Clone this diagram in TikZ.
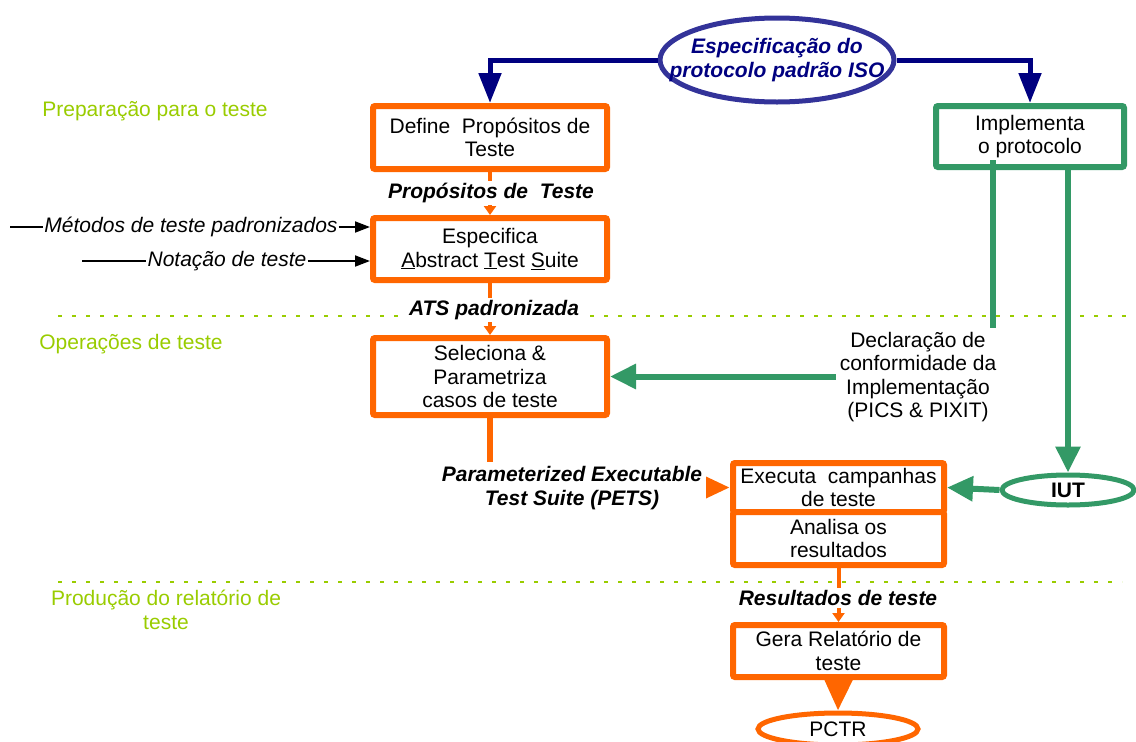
\documentclass[tikz,border=0pt]{standalone}
\usepackage{fontspec}
\setmainfont{Liberation Sans}
\usetikzlibrary{arrows.meta,shapes.geometric,calc}
\definecolor{orng}{HTML}{FF6600}
\definecolor{grn}{HTML}{339966}
\definecolor{nvy}{HTML}{000080}
\definecolor{nvyb}{HTML}{333399}
\definecolor{lime}{HTML}{99CC00}
\begin{document}
\begin{tikzpicture}[x=1pt,y=-1pt,
  txt/.style={font=\fontsize{21}{23.5}\selectfont, align=center},
  obox/.style={draw=orng, line width=6pt, rounded corners=2pt, txt, inner sep=0pt, fill=white},
  gbox/.style={draw=grn, line width=6pt, rounded corners=2pt, txt, inner sep=0pt, fill=white},
  lbl/.style={font=\fontsize{21}{23.5}\selectfont\bfseries\itshape, fill=white, inner sep=2pt, align=center},
  side/.style={font=\fontsize{21}{23.5}\selectfont, text=lime, align=center},
  sep/.style={lime, line width=2.5pt, dash pattern=on 4pt off 10pt},
  navyarrow/.style={nvy, line width=5pt, -{Triangle[length=30pt,width=22pt]}},
  greenarrow/.style={grn, line width=6pt, -{Triangle[length=26pt,width=24pt]}},
  thinorange/.style={orng, line width=4pt, -{Triangle[length=9pt,width=12pt]}},
  blkarrow/.style={black, line width=1.8pt, -{Triangle[length=15pt,width=11pt]}},
]
\useasboundingbox (0,0) rectangle (1136,742);

% phase separators
\draw[sep] (58,316) -- (1136,316);
\draw[sep] (58,582) -- (1122,582);

% phase labels
\node[side] (ph1) at (155,111) {Preparação para o teste};
\node[side] (ph2) at (131,344) {Operações de teste};
\node[side] (ph3) at (166,610) {Produção do relatório de\\teste};

% top ellipse
\node[ellipse, draw=nvyb, line width=5pt, fill=white, minimum width=234pt, minimum height=84pt,
      inner sep=0pt] (spec) at (777,60) {};
\node[font=\fontsize{21}{23.5}\selectfont\bfseries\itshape, text=nvy, align=center, inner sep=0pt]
      (spect) at (spec.center) {Especificação do\\protocolo padrão ISO};

% orange boxes
\node[obox, minimum width=234pt, minimum height=63pt] (def) at (490,137.5) {Define\ \ Propósitos de\\Teste};
\node[obox, minimum width=234pt, minimum height=62pt] (esp) at (490,249) {Especifica\\\underline{A}bstract \underline{T}est \underline{S}uite};
\node[obox, minimum width=234pt, minimum height=77pt] (sel) at (490,376.5) {Seleciona \&\\Parametriza\\casos de teste};
\node[obox, minimum width=211pt, minimum height=49pt] (exe) at (838.5,487.5) {Executa\ \ campanhas\\de teste};
\node[obox, minimum width=211pt, minimum height=53pt] (ana) at (838.5,538.5) {Analisa os\\resultados};
\node[obox, minimum width=211pt, minimum height=52pt] (ger) at (838.5,651) {Gera Relatório de\\teste};
\node[ellipse, draw=orng, line width=5pt, fill=white, minimum width=160pt, minimum height=32pt,
      inner sep=0pt] (pctr) at (838,729) {};
\node[txt, inner sep=0pt] (pctrt) at (pctr.center) {PCTR};

% green
\node[gbox, minimum width=188pt, minimum height=61pt] (imp) at (1030,136.5) {Implementa\\o protocolo};
\node[ellipse, draw=grn, line width=5pt, fill=white, minimum width=132pt, minimum height=30pt,
      inner sep=0pt] (iut) at (1068,490) {};
\node[font=\fontsize{21}{23.5}\selectfont\bfseries, inner sep=0pt] (iutt) at (iut.center) {IUT};

% navy arrows
\draw[navyarrow] (spec.west) -| (def.north);
\draw[navyarrow] (spec.east) -| (imp.north);

% orange flow
\draw[thinorange] (def.south) -- (esp.north);
\draw[thinorange] (esp.south) -- (sel.north);
\draw[orng, line width=6pt, -{Triangle[length=24pt,width=20pt]}] (sel.south) |- (exe.west);
\draw[thinorange] (ana.south) -- (ger.north);
\draw[orng, line width=6pt, -{Triangle[length=32pt,width=28pt]}] (ger.south) -- (pctr.north);

\node[lbl] (lp) at (491,193) {Propósitos de\ \ Teste};
\node[lbl] (la) at (494,310) {ATS padronizada};
\node[lbl, inner sep=4pt] (lpets) at (572,488) {Parameterized Executable\\Test Suite (PETS)};
\node[lbl] (lr) at (838,598) {Resultados de teste};

% green connectors
\coordinate (d0) at (993,160);
\draw[greenarrow] (d0) |- (sel.east);
\draw[greenarrow] (imp.south -| iut.north) -- (iut.north);
\draw[greenarrow] (iut.west) -- (exe.east);
\node[txt, fill=white, inner sep=4pt] (dec) at (918,377) {Declaração de\\conformidade da\\Implementação\\(PICS \& PIXIT)};

% black inputs
\node[font=\fontsize{21}{23.5}\selectfont\itshape, inner sep=1pt] (met) at (191,227) {Métodos de teste padronizados};
\node[font=\fontsize{21}{23.5}\selectfont\itshape, inner sep=1pt] (not) at (227,261) {Notação de teste};
\coordinate (m0) at (10,227);
\coordinate (n0) at (82,261);
\draw[black, line width=1.8pt] (m0) -- (met.west);
\draw[blkarrow] (met.east) -- (met.east -| esp.west);
\draw[black, line width=1.8pt] (n0) -- (not.west);
\draw[blkarrow] (not.east) -- (not.east -| esp.west);
\end{tikzpicture}
\end{document}
